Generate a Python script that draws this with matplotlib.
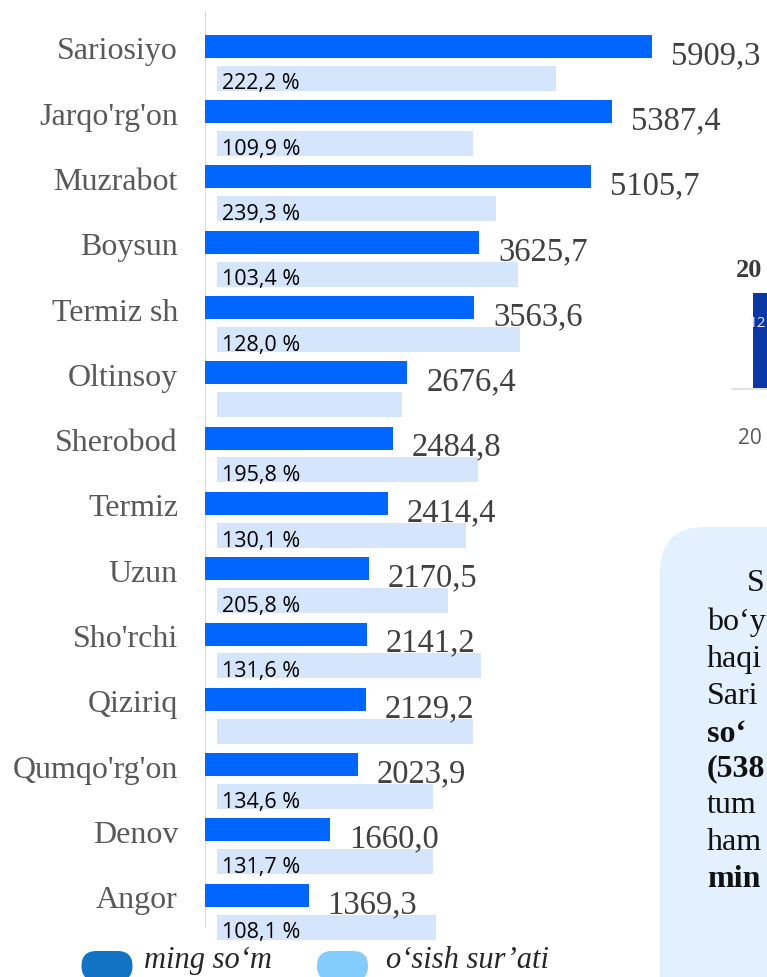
"""Tumanlar kesimida: ming so'm va o'sish sur'ati (gorizontal ustunlar)."""

import matplotlib
matplotlib.use('Agg')
import matplotlib.pyplot as plt
from matplotlib.patches import FancyBboxPatch, Rectangle

# ---- data ----
districts = ["Sariosiyo", "Jarqo'rg'on", "Muzrabot", "Boysun", "Termiz sh",
             "Oltinsoy", "Sherobod", "Termiz", "Uzun", "Sho'rchi",
             "Qiziriq", "Qumqo'rg'on", "Denov", "Angor"]
ming_som = [5909.3, 5387.4, 5105.7, 3625.7, 3563.6, 2676.4, 2484.8,
            2414.4, 2170.5, 2141.2, 2129.2, 2023.9, 1660.0, 1369.3]
osish_pct = [222.2, 109.9, 239.3, 103.4, 128.0, None, 195.8,
             130.1, 205.8, 131.6, None, 134.6, 131.7, 108.1]
# length of the pale bars (same scale as ming_som, estimated)
osish_bar = [4480, 3382, 3688, 3975, 4005, 2447, 3452,
             3294, 3056, 3492, 3386, 2857, 2857, 2897]

W, H = 767, 977
DARK = '#0066FF'
PALE = '#D5E5FC'
SERIF = 'Liberation Serif'
SANS = 'Open Sans'
PX = 0.0756  # pixels per ming so'm unit


def fmt(v):
    return f'{v:.1f}'.replace('.', ',')


fig = plt.figure(figsize=(W / 100, H / 100), dpi=100)

# ---- overlay in pixel coordinates for the cut-off neighbours ----
ov = fig.add_axes([0, 0, 1, 1], zorder=0)
ov.set_xlim(0, W)
ov.set_ylim(H, 0)
ov.axis('off')

box = FancyBboxPatch((660, 527), 260, 520,
                     boxstyle='round,pad=0,rounding_size=45',
                     facecolor='#E2F1FD', edgecolor='none')
ov.add_patch(box)
# only the part of the paragraph that shows at the right edge
lines = [('bo‘y', 630, 'normal'), ('haqi', 667, 'normal'),
         ('Sari', 704, 'normal'), ('so‘', 742, 'bold'),
         ('(538', 776, 'bold'), ('tum', 813, 'normal'),
         ('ham', 850, 'normal'), ('min', 887, 'bold')]
ov.text(765, 591, 'S', fontsize=23, family=SERIF, color='#111111',
        va='baseline', ha='right')
for txt, y, w in lines:
    ov.text(707, y, txt, fontsize=23, family=SERIF, weight=w, color='#111111',
            va='baseline', ha='left')

# small chart on the right edge
ov.text(736, 277, '20', fontsize=19, family=SERIF, weight='bold',
        color='#3a3a3a', va='baseline')
ov.add_patch(Rectangle((753, 293), 40, 95, facecolor='#0A37A4', edgecolor='none'))
ov.plot([732, 790], [389.3, 389.3], color='#d9d9d9', lw=1.1)
ov.text(749, 323.5, '12', fontsize=11, family=SANS, color='#dfe6f5',
        va='center')
ov.text(738, 438, '20', fontsize=15, family=SANS, color='#595959',
        va='center')

# legend
ov.add_patch(FancyBboxPatch((81.5, 951), 51, 30,
                            boxstyle='round,pad=0,rounding_size=15',
                            facecolor='#1273C4', edgecolor='none'))
ov.add_patch(FancyBboxPatch((317, 951), 51, 30,
                            boxstyle='round,pad=0,rounding_size=15',
                            facecolor='#84CCFB', edgecolor='none'))
ov.text(143.5, 968, 'ming so‘m', fontsize=22, family=SERIF, style='italic',
        color='#262626', va='baseline')
ov.text(386.5, 968, 'o‘sish sur’ati', fontsize=22, family=SERIF, style='italic',
        color='#262626', va='baseline')

# ---- main bar chart ----
ax = fig.add_axes([205 / W, 0, (W - 205) / W, 1], zorder=1)
ax.patch.set_alpha(0)
ax.set_xlim(0, (W - 205) / PX)
ax.set_ylim(14.252, -0.709)
ax.axis('off')

rows = list(range(len(districts)))
ax.barh(rows, ming_som, height=0.352, color=DARK, zorder=3)
ax.barh([r + 0.488 for r in rows], osish_bar, left=12 / PX, height=0.383,
        color=PALE, zorder=2)

# value axis line
ax.axvline(-1 / PX, ymin=1 - 925 / H, ymax=1 - 12 / H, color='#d9d9d9',
           lw=2.2, zorder=1)

for r, name, v, g in zip(rows, districts, ming_som, osish_pct):
    ax.text(-27 / PX, r + 0.2, name, ha='right', va='baseline',
            fontsize=23, family=SERIF, color='#595959')
    ax.text(v + 19 / PX, r + 0.27, fmt(v), ha='left', va='baseline',
            fontsize=23.5, family=SERIF, color='#404040', zorder=4)
    if g is not None:
        ax.text(17 / PX, r + 0.66, fmt(g) + ' %', ha='left', va='baseline',
                fontsize=15.5, family=SANS, color='black', zorder=4)

fig.savefig('out.png', dpi=100)
